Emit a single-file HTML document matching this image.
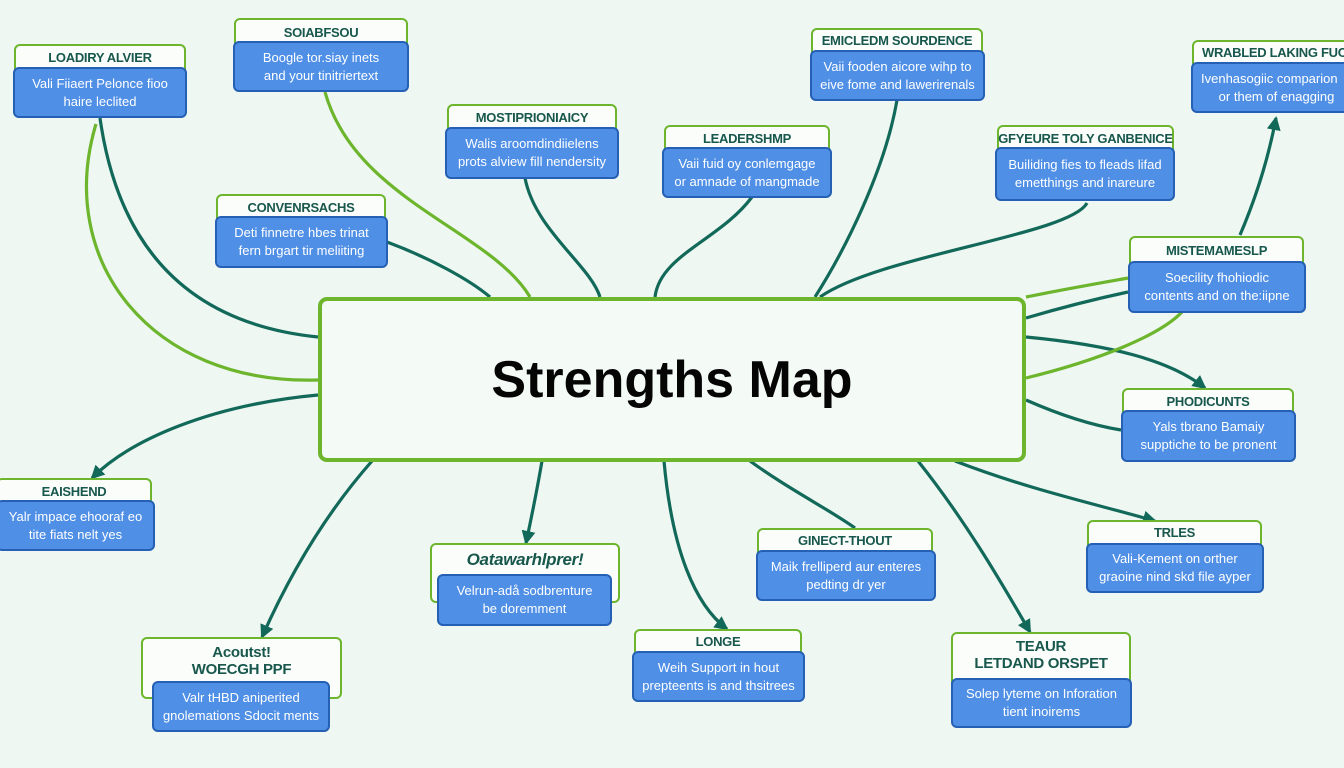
<!DOCTYPE html>
<html><head><meta charset="utf-8"><style>
body{margin:0;width:1344px;height:768px;background:#eef7f1;position:relative;overflow:hidden;font-family:"Liberation Sans",sans-serif}
.f{position:absolute;border:2.5px solid #6cb52c;background:#fbfdfb;border-radius:6px;box-sizing:border-box}
.h{position:absolute;color:#17574c;font-weight:bold;font-size:13px;text-align:center;white-space:nowrap;letter-spacing:-0.3px}
.b{position:absolute;background:#4f8fe6;border:2.5px solid #2560b4;border-radius:6px;box-sizing:border-box;color:#fff;font-size:13px;text-align:center;display:flex;align-items:center;justify-content:center;line-height:18px;white-space:nowrap}
#c{position:absolute;left:318px;top:297px;width:708px;height:165px;border:4px solid #6cb52c;border-radius:9px;box-sizing:border-box;background:#f4faf6;display:flex;align-items:center;justify-content:center;font-weight:bold;font-size:52px;color:#050505}
svg{position:absolute;left:0;top:0}
</style></head><body>
<svg width="1344" height="768" fill="none" stroke-width="3.2">
<defs><marker id="a" markerWidth="8" markerHeight="8" refX="6" refY="4" orient="auto" markerUnits="userSpaceOnUse" viewBox="0 0 8 8"><path d="M0,0L8,4L0,8z" fill="#12695a" stroke="none"/></marker>
<marker id="m" markerWidth="16" markerHeight="16" refX="12" refY="8" orient="auto" markerUnits="userSpaceOnUse"><path d="M0,1L14,8L0,15z" fill="#12695a"/></marker></defs>
<g stroke="#12695a">
<path d="M100,118 C120,260 200,325 318,337"/>
<path d="M387,242 C430,258 470,280 490,297"/>
<path d="M525,178 C535,230 590,265 600,297"/>
<path d="M752,197 C720,240 660,255 655,297"/>
<path d="M897,100 C885,170 845,250 815,297"/>
<path d="M1087,203 C1070,235 880,255 820,297"/>
<path d="M1240,235 C1255,200 1268,160 1276,118" marker-end="url(#m)"/>
<path d="M1026,318 C1070,305 1100,298 1128,292"/>
<path d="M1026,337 C1110,345 1170,360 1205,388" marker-end="url(#m)"/>
<path d="M1026,400 C1060,415 1090,425 1121,430"/>
<path d="M318,395 C210,405 130,440 92,478" marker-end="url(#m)"/>
<path d="M542,461 C537,490 532,515 526,543" marker-end="url(#m)"/>
<path d="M372,461 C320,520 285,585 262,637" marker-end="url(#m)"/>
<path d="M664,461 C672,550 695,605 727,629" marker-end="url(#m)"/>
<path d="M750,461 C790,490 830,510 855,528"/>
<path d="M918,461 C965,520 1000,580 1030,632" marker-end="url(#m)"/>
<path d="M955,461 C1030,490 1100,505 1155,521" marker-end="url(#m)"/>
</g>
<g stroke="#6cb52c">
<path d="M96,124 C55,260 150,385 318,380"/>
<path d="M325,92 C355,200 490,230 530,297"/>
<path d="M1026,297 C1060,290 1100,283 1128,278"/>
<path d="M1026,378 C1100,360 1160,335 1182,312"/>
</g>
</svg>
<div id="c">Strengths Map</div>

<div class="f" style="left:14px;top:44px;width:172px;height:60px"></div><div class="h" style="left:14px;top:50px;width:172px">LOADIRY ALVIER</div>
<div class="b" style="left:13px;top:67px;width:174px;height:51px">Vali Fiiaert Pelonce fioo<br>haire leclited</div>

<div class="f" style="left:234px;top:18px;width:174px;height:60px"></div><div class="h" style="left:234px;top:25px;width:174px">SOIABFSOU</div>
<div class="b" style="left:233px;top:41px;width:176px;height:51px">Boogle tor.siay inets<br>and your tinitriertext</div>

<div class="f" style="left:447px;top:104px;width:170px;height:60px"></div><div class="h" style="left:447px;top:110px;width:170px">MOSTIPRIONIAICY</div>
<div class="b" style="left:445px;top:127px;width:174px;height:52px">Walis aroomdindiielens<br>prots alview fill nendersity</div>

<div class="f" style="left:664px;top:125px;width:166px;height:60px"></div><div class="h" style="left:664px;top:131px;width:166px">LEADERSHMP</div>
<div class="b" style="left:662px;top:147px;width:170px;height:51px">Vaii fuid oy conlemgage<br>or amnade of mangmade</div>

<div class="f" style="left:811px;top:28px;width:172px;height:60px"></div><div class="h" style="left:811px;top:33px;width:172px">EMICLEDM SOURDENCE</div>
<div class="b" style="left:810px;top:50px;width:175px;height:51px">Vaii fooden aicore wihp to<br>eive fome and lawerirenals</div>

<div class="f" style="left:1192px;top:40px;width:160px;height:60px"></div><div class="h" style="left:1192px;top:45px;width:160px;text-align:left;padding-left:10px">WRABLED LAKING FUC</div>
<div class="b" style="left:1191px;top:62px;width:165px;height:51px;justify-content:flex-start;padding-left:8px">Ivenhasogiic comparion<br>&nbsp;&nbsp;&nbsp;&nbsp;or them of enagging</div>

<div class="f" style="left:997px;top:125px;width:177px;height:60px"></div><div class="h" style="left:997px;top:131px;width:177px">GFYEURE TOLY GANBENICE</div>
<div class="b" style="left:995px;top:147px;width:180px;height:54px">Builiding fies to fleads lifad<br>emetthings and inareure</div>

<div class="f" style="left:216px;top:194px;width:170px;height:60px"></div><div class="h" style="left:216px;top:200px;width:170px">CONVENRSACHS</div>
<div class="b" style="left:215px;top:216px;width:173px;height:52px">Deti finnetre hbes trinat<br>fern brgart tir meliiting</div>

<div class="f" style="left:1129px;top:236px;width:175px;height:60px"></div><div class="h" style="left:1129px;top:243px;width:175px">MISTEMAMESLP</div>
<div class="b" style="left:1128px;top:261px;width:178px;height:52px">Soecility fhohiodic<br>contents and on the:iipne</div>

<div class="f" style="left:1122px;top:388px;width:172px;height:60px"></div><div class="h" style="left:1122px;top:394px;width:172px">PHODICUNTS</div>
<div class="b" style="left:1121px;top:410px;width:175px;height:52px">Yals tbrano Bamaiy<br>supptiche to be pronent</div>

<div class="f" style="left:-4px;top:478px;width:156px;height:60px"></div><div class="h" style="left:-4px;top:484px;width:156px">EAISHEND</div>
<div class="b" style="left:-4px;top:500px;width:159px;height:51px">Yalr impace ehooraf eo<br>tite fiats nelt yes</div>

<div class="f" style="left:430px;top:543px;width:190px;height:60px"></div><div class="h" style="left:430px;top:550px;width:190px;font-size:17px;font-style:italic">Oatawarhlprer!</div>
<div class="b" style="left:437px;top:574px;width:175px;height:52px">Velrun-adå sodbrenture<br>be doremment</div>

<div class="f" style="left:757px;top:528px;width:176px;height:60px"></div><div class="h" style="left:757px;top:533px;width:176px">GINECT-THOUT</div>
<div class="b" style="left:756px;top:550px;width:180px;height:51px">Maik frelliperd aur enteres<br>pedting dr yer</div>

<div class="f" style="left:1087px;top:520px;width:175px;height:60px"></div><div class="h" style="left:1087px;top:525px;width:175px">TRLES</div>
<div class="b" style="left:1086px;top:543px;width:178px;height:50px">Vali-Kement on orther<br>graoine nind skd file ayper</div>

<div class="f" style="left:141px;top:637px;width:201px;height:62px"></div><div class="h" style="left:141px;top:644px;width:201px;font-size:15px;line-height:17px">Acoutst!<br>WOECGH PPF</div>
<div class="b" style="left:152px;top:681px;width:178px;height:51px">Valr tHBD aniperited<br>gnolemations Sdocit ments</div>

<div class="f" style="left:634px;top:629px;width:168px;height:60px"></div><div class="h" style="left:634px;top:634px;width:168px">LONGE</div>
<div class="b" style="left:632px;top:651px;width:173px;height:51px">Weih Support in hout<br>prepteents is and thsitrees</div>

<div class="f" style="left:951px;top:632px;width:180px;height:60px"></div><div class="h" style="left:951px;top:638px;width:180px;font-size:15px;line-height:17px">TEAUR<br>LETDAND ORSPET</div>
<div class="b" style="left:951px;top:678px;width:181px;height:50px">Solep lyteme on Inforation<br>tient inoirems</div>
</body></html>
